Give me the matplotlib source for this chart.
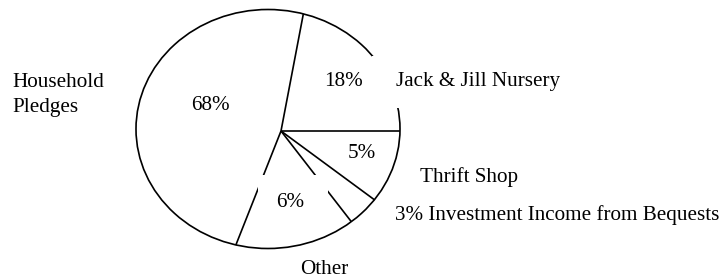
# Pie chart of income sources, drawn by hand on a pixel grid
import numpy as np
import matplotlib
matplotlib.use('Agg')
import matplotlib.pyplot as plt
from matplotlib.patches import Ellipse, Rectangle

# Slices in counter-clockwise order, starting at the horizontal line
categories = ['Jack & Jill Nursery', 'Household Pledges', 'Other',
              'Investment Income from Bequests', 'Thrift Shop']
pct_labels = ['18%', '68%', '6%', '3%', '5%']
# share of the circle each slice takes as it is drawn (percent)
drawn_share = [22.0, 47.0, 16.5, 4.4, 10.1]

plt.rcParams['font.family'] = ['Liberation Serif', 'DejaVu Serif']
fsize = 15.2

fig = plt.figure(figsize=(7.26, 2.79), dpi=100)
ax = fig.add_axes([0, 0, 1, 1])
ax.set_xlim(0, 726)
ax.set_ylim(279, 0)
ax.axis('off')

# outline (slightly oval, centre a bit left of where the lines meet)
cx, cy, rx, ry = 268.0, 129.0, 132.0, 119.5
hx, hy = 281.0, 131.0
ax.add_patch(Ellipse((cx, cy), 2 * rx, 2 * ry, fill=False,
                     edgecolor='black', linewidth=1.2, zorder=2))

# radial lines from the hub to the outline at each slice boundary
bounds = np.concatenate([[0], np.cumsum(drawn_share)]) / 100 * 360
for ang in bounds[:-1]:
    t = np.deg2rad(ang)
    dx, dy = np.cos(t), -np.sin(t)
    # ray / ellipse intersection
    px, py = hx - cx, hy - cy
    a = (dx / rx) ** 2 + (dy / ry) ** 2
    b = 2 * (px * dx / rx ** 2 + py * dy / ry ** 2)
    c = (px / rx) ** 2 + (py / ry) ** 2 - 1
    s = (-b + np.sqrt(b * b - 4 * a * c)) / (2 * a)
    ax.plot([hx, hx + s * dx], [hy, hy + s * dy], color='black',
            linewidth=1.2, solid_capstyle='butt', zorder=2)

# white text boxes that cut the outline and lines in the original
ax.add_patch(Rectangle((372, 56), 33, 52, facecolor='white',
                       edgecolor='none', zorder=3))
ax.add_patch(Rectangle((258, 175), 70, 35, facecolor='white',
                       edgecolor='none', zorder=3))

# percent labels inside the pie
pct_pos = [(343, 86), (210, 110), (290, 207), None, (362, 158)]
for lab, pos in zip(pct_labels, pct_pos):
    if pos is None:
        continue
    ax.text(pos[0], pos[1], lab, fontsize=fsize, ha='center',
            va='baseline', zorder=4)

# category labels outside the pie
ax.text(396, 86, categories[0], fontsize=fsize, va='baseline', zorder=4)
ax.text(12, 87, 'Household', fontsize=fsize, va='baseline', zorder=4)
ax.text(12, 112, 'Pledges', fontsize=fsize, va='baseline', zorder=4)
ax.text(324, 274, categories[2], fontsize=fsize, ha='center',
        va='baseline', zorder=4)
ax.text(395, 220, pct_labels[3] + ' ' + categories[3], fontsize=fsize,
        va='baseline', zorder=4)
ax.text(420, 182, categories[4], fontsize=fsize, va='baseline', zorder=4)

fig.savefig('out.png', dpi=100)
